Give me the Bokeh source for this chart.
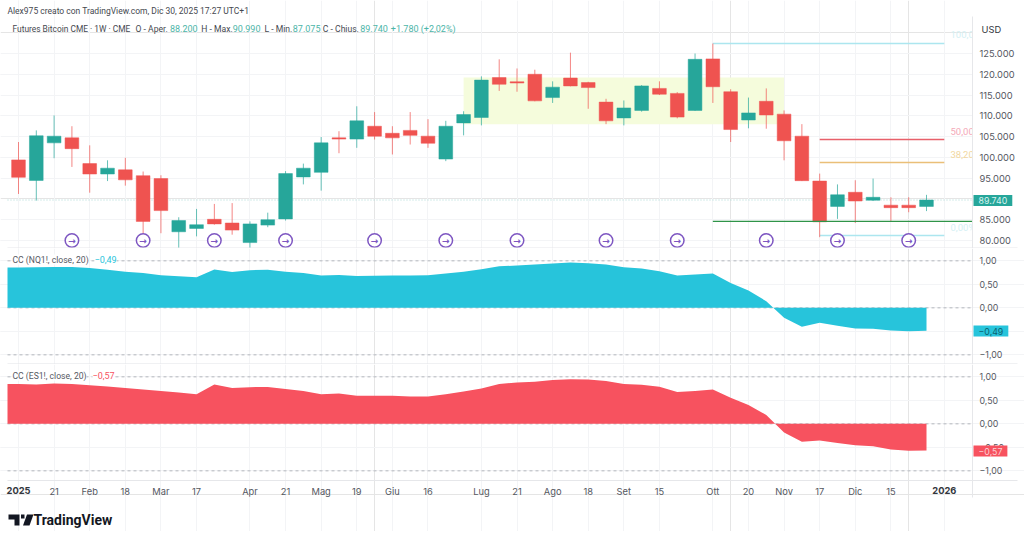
from bokeh.plotting import figure
from bokeh.layouts import column
from bokeh.embed import file_html
from bokeh.resources import INLINE
from bokeh.core.properties import value
from bokeh.models import Range1d, FixedTicker, Label, BoxAnnotation, PolyAnnotation, ColumnDataSource, LinearAxis, Grid

# ---- data (prices in thousands of USD; one candle per week) ----
opens = [99.4,94.45,103.5,104.7,98.5,96.0,97.0,95.6,94.9,82.1,82.9,85.1,84.2,79.5,83.7,85.2,95.3,96.4,104.7,104.4,107.5,105.8,106.5,105.1,99.6,108.3,109.6,119.2,118.2,120.0,114.4,119.1,118.0,113.3,109.5,111.3,116.6,115.4,111.3,123.7,115.8,109.0,113.5,110.4,105.1,94.3,88.2,91.6,89.7,88.5,88.5,88.2]
closes = [95.2,105.2,105.1,102.1,96.0,97.4,94.6,84.6,87.2,84.8,83.8,84.0,82.5,84.0,85.0,96.1,97.4,103.5,104.4,108.8,105.1,104.7,105.3,103.4,107.5,110.3,118.6,117.6,117.9,113.6,116.9,117.2,116.8,108.8,111.9,117.2,115.2,109.7,123.6,117.0,106.7,110.7,110.2,104.0,94.4,84.5,91.0,89.5,90.4,87.9,87.9,89.74]
highs = [103.7,106.5,110.1,107.5,102.9,99.3,99.9,96.6,95.7,85.6,87.6,88.8,89.0,84.6,86.7,96.7,98.5,104.9,106.3,112.3,110.9,107.5,110.9,109.2,108.8,111.1,119.5,123.6,121.4,121.1,118.3,125.2,118.2,114.1,113.7,117.4,118.3,115.7,125.0,127.4,116.4,114.4,116.6,111.3,108.0,96.1,93.5,94.5,94.9,90.4,90.4,90.99]
lows = [91.2,89.6,99.8,97.7,91.5,94.3,93.2,81.6,81.75,78.0,81.0,83.8,81.4,78.0,83.2,84.8,93.5,92.0,101.0,102.3,104.3,100.7,103.1,102.3,99.1,105.3,107.7,116.0,115.8,113.5,113.1,117.1,111.7,108.0,107.7,111.0,115.0,109.4,111.2,113.1,103.7,107.0,106.9,99.3,94.3,80.8,85.2,84.2,89.5,84.6,86.8,87.075]
cc_nq = [0.86,0.86,0.865,0.87,0.87,0.85,0.81,0.77,0.74,0.695,0.67,0.65,0.815,0.765,0.80,0.81,0.77,0.74,0.69,0.70,0.675,0.68,0.69,0.69,0.695,0.73,0.77,0.82,0.885,0.90,0.92,0.945,0.965,0.95,0.92,0.865,0.835,0.78,0.69,0.71,0.73,0.53,0.37,0.14,-0.21,-0.40,-0.32,-0.38,-0.44,-0.445,-0.48,-0.50,-0.49]
cc_es = [0.85,0.85,0.835,0.86,0.85,0.82,0.795,0.76,0.73,0.70,0.665,0.63,0.835,0.76,0.78,0.785,0.74,0.70,0.63,0.645,0.595,0.595,0.595,0.58,0.58,0.63,0.69,0.75,0.85,0.88,0.895,0.935,0.95,0.945,0.91,0.85,0.83,0.79,0.675,0.70,0.73,0.555,0.40,0.19,-0.185,-0.38,-0.355,-0.41,-0.455,-0.475,-0.545,-0.575,-0.57]
event_weeks = [3,7,11,15,20,24,28,33,37,42,46,50]
time_ticks = {2:"21",4:"Feb",6:"18",8:"Mar",10:"17",13:"Apr",15:"21",17:"Mag",19:"19",21:"Giu",23:"16",26:"Lug",28:"21",30:"Ago",32:"18",34:"Set",36:"15",39:"Ott",41:"20",43:"Nov",45:"17",47:"Dic",49:"15"}
year_ticks = {0:"2025",52:"2026"}
price_ticks = [80,85,90,95,100,105,110,115,120,125]
cc_ticks = [-1,-0.5,0,0.5,1]
cc_tick_labels = {-1:"−1,00",-0.5:"−0,50",0:"0,00",0.5:"0,50",1:"1,00"}
fib_top, fib_50, fib_382, fib_0, green_level = 127.4, 104.3, 98.8, 81.2, 84.6
box_low, box_high = 108.0, 119.2

GREEN, RED = "#26a69a", "#ef5350"
CYAN, ROSE = "#27c4db", "#f7525f"
GRID = "#f3f4f6"
TXT = "#55585f"
DARK = "#45484f"
NUM = "#4cb5a8"
FONT = "Inter"
TFONT = "Roboto"
AX_SIZE = "9.3px"
TAG_SIZE = "8.8px"
W = 1024
PX_PER_WEEK = 17.804
X_AT = lambda px: (px - 18) / PX_PER_WEEK
XL, XR, XEND = X_AT(7), X_AT(972), X_AT(1017)
xr = Range1d(X_AT(0), X_AT(W))
all_grid = sorted(list(time_ticks) + list(year_ticks))

def make(h, ybottom, ytop, gb, ticks):
    p = figure(height=h, width=W, frame_width=W, frame_height=h, x_range=xr, y_range=Range1d(ybottom, ytop),
               x_axis_location=None, y_axis_location=None, output_backend="svg", toolbar_location=None,
               min_border_left=0, min_border_right=0, min_border_top=0, min_border_bottom=0)
    p.outline_line_color = None
    p.add_layout(Grid(dimension=0, ticker=FixedTicker(ticks=all_grid), grid_line_color=GRID, bounds=gb))
    p.add_layout(Grid(dimension=1, ticker=FixedTicker(ticks=ticks), grid_line_color=GRID, bounds=(XL, XR)))
    return p

def right_axis(p, ticks, labels, bounds, size=AX_SIZE):
    ax = LinearAxis(fixed_location=XR, ticker=FixedTicker(ticks=ticks), major_label_overrides=labels, bounds=bounds,
                    axis_line_color="#e6e7ea", major_tick_line_color=None, minor_tick_line_color=None,
                    major_tick_out=0, major_tick_in=0, minor_tick_out=0, minor_tick_in=0,
                    major_label_standoff=7, major_label_text_font=FONT, major_label_text_font_size=size,
                    major_label_text_color=TXT)
    p.add_layout(ax, "right")

def lab(p, px, py, frame_bottom, text, color=TXT, size="8.6px", style="normal", font=TFONT, **kw):
    p.add_layout(Label(x=px, y=frame_bottom-py, x_units="screen", y_units="screen", text=text,
                       text_color=color, text_font=font, text_font_size=size, text_font_style=style,
                       text_baseline="middle", **kw))

# ---- main price pane (canvas y 0..248) ----
K = 45 / 187
P_TOP, P_BOT = 125 + 53 * K, 125 - 195 * K
p1 = make(248, P_BOT, P_TOP, (P_BOT, 125 + 37 * K), [t for t in price_ticks if t != 90])
i = list(range(len(opens)))
colors = [GREEN if c >= o else RED for o, c in zip(opens, closes)]
src = ColumnDataSource(dict(x=i, o=opens, c=closes, h=highs, l=lows, col=colors))
p1.quad(left=25, right=43, bottom=box_low, top=box_high, fill_color="#f5fcdc", line_color=None)
p1.segment(x0=XL, x1=XR, y0=closes[-1], y1=closes[-1], line_color="#a9d8d3", line_dash="1 2", line_width=1)
p1.segment(x0=39, x1=52, y0=fib_top, y1=fib_top, line_color="#ace6ef", line_width=1.5)
p1.segment(x0=45, x1=52, y0=fib_0, y1=fib_0, line_color="#ace6ef", line_width=1.5)
p1.segment(x0=45, x1=52, y0=fib_50, y1=fib_50, line_color="#e8606a", line_width=1.3)
p1.segment(x0=45, x1=52, y0=fib_382, y1=fib_382, line_color="#eabf78", line_width=1.5)
p1.segment(x0="x", x1="x", y0="l", y1="h", line_color="col", line_alpha=0.7, line_width=1, source=src)
p1.vbar(x="x", width=0.77, bottom="o", top="c", fill_color="col", line_color="col", line_width=0.5, source=src)
p1.segment(x0=39, x1=XR, y0=green_level, y1=green_level, line_color="#2f9448", line_width=1.3)
fib_src = ColumnDataSource(dict(x=[X_AT(950)]*4, y=[fib_top+2.1, fib_50+1.9, fib_382+1.9, fib_0+1.9],
                                t=["100,00","50,00","38,20","0,00%"],
                                c=["#d4f0f4","#f4a9b8","#f2d79e","#d4f0f4"]))
p1.text(x="x", y="y", text="t", text_color="c", text_font=value(TFONT), text_font_size="9.5px",
        text_baseline="middle", source=fib_src)
# the price scale's white strip hides what runs past the plot's right edge
p1.quad(left=XR, right=X_AT(W), bottom=P_BOT, top=P_TOP, fill_color="white", line_color=None)
ev = ColumnDataSource(dict(x=event_weeks, y=[80]*len(event_weeks), t=["→"]*len(event_weeks)))
p1.scatter(x="x", y="y", size=13.5, marker="circle", fill_color="white", line_color="#7e57c2", line_width=1.5, source=ev)
p1.text(x="x", y="y", text="t", text_color="#7e57c2", text_font=value("DejaVu Sans"), text_font_size="9px",
        text_font_style="bold", text_align="center", text_baseline="middle", source=ev)
right_axis(p1, price_ticks, {t: f"{t}.000" for t in price_ticks}, (P_BOT, 125 + 37 * K))
p1.segment(x0=XL, x1=XEND, y0=P_BOT + 0.12, y1=P_BOT + 0.12, line_color="#e6e7ea", line_width=1)
F1 = 248
lab(p1, 7, 10, F1, "Alex975 creato con TradingView.com, Dic 30, 2025 17:27 UTC+1", color=DARK, size="8.5px")
lab(p1, 12, 28, F1, "Futures Bitcoin CME · 1W · CME", color=DARK, size="8.4px")
for px, t, c in [(135,"O - Aper.",DARK),(169.5,"88.200",NUM),
                 (200.7,"H - Max.",DARK),(232.3,"90.990",NUM),(264,"L - Min.",DARK),(292.3,"87.075",NUM),
                 (322.3,"C - Chius.",DARK),(359.7,"89.740",NUM),(390.3,"+1.780 (+2,02%)",NUM)]:
    lab(p1, px, 28, F1, t, color=c, size="9px" if c == NUM else "8.6px")
lab(p1, 981, 29, F1, "USD", color="#33363d", size=AX_SIZE, font=FONT)
lab(p1, 973, 200, F1, "89.740", color="#d9f3ef", size=TAG_SIZE, font=FONT, background_fill_color=GREEN, padding=(5, 2))

# ---- correlation panes ----
PX1 = 47  # canvas pixels per 1.00 of correlation
def cc_pane(h, top_px, series, col, title, val, tag, tagcol, val_x, tag_y):
    zero_px = top_px + 12.33 + PX1
    ytop = (zero_px - top_px) / PX1
    ybot = -(top_px + h - zero_px) / PX1
    grid_low = -(top_px + 116 - zero_px) / PX1
    p = make(h, ybot, ytop, (grid_low, ytop), cc_ticks)
    x = [XL] + list(range(0, len(series)-1))
    for lv in (1, 0, -1):
        p.segment(x0=XL, x1=XR, y0=lv, y1=lv, line_color="#b4b7bd", line_dash="3 3", line_width=1)
    p.varea(x=x, y1=[0]*len(x), y2=series, fill_color=col)
    bottom = top_px + h
    lab(p, 12, top_px+11, bottom, title, background_fill_color="white")
    lab(p, val_x, top_px+11, bottom, val, color=col, background_fill_color="white", size="9px")
    return p, grid_low, (tag, tagcol, tag_y, col, bottom)

def add_tag(p, info):
    tag, tagcol, tag_y, col, bottom = info
    lab(p, 973, tag_y, bottom, tag, color=tagcol, size=TAG_SIZE, font=FONT, background_fill_color=col, padding=(5, 2))

p2, low2, t2 = cc_pane(116, 248, cc_nq, CYAN, "CC (NQ1!, close, 20)", "−0,49", "−0,49", "#0d6270", 94, 330.5)
right_axis(p2, cc_ticks, cc_tick_labels, (low2, 1.262), size="8.8px")
p2.segment(x0=XL, x1=XEND, y0=low2 + 0.012, y1=low2 + 0.012, line_color="#e6e7ea", line_width=1)
add_tag(p2, t2)
p3, low3, t3 = cc_pane(167, 364, cc_es, ROSE, "CC (ES1!, close, 20)", "−0,57", "−0,57", "#fbd0d4", 92, 450.5)
right_axis(p3, cc_ticks, cc_tick_labels, (-(497 - 423.33) / PX1, 1.262), size="8.8px")
add_tag(p3, t3)
xa = LinearAxis(fixed_location=low3, ticker=FixedTicker(ticks=all_grid), major_label_overrides={**time_ticks, **{k: "" for k in year_ticks}},
                bounds=(XL, XEND), axis_line_color="#e6e7ea", major_tick_line_color=None, minor_tick_line_color=None,
                major_tick_out=0, major_tick_in=0, minor_tick_out=0, minor_tick_in=0,
                major_label_standoff=5, major_label_text_font=FONT, major_label_text_font_size=AX_SIZE, major_label_text_color=TXT)
p3.add_layout(xa, "below")
F3 = 531
for k, t in year_ticks.items():
    p3.add_layout(Label(x=k, y=F3-490, x_units="data", y_units="screen", text=t, text_color="#33363d", text_font=FONT,
                        text_font_size=AX_SIZE, text_font_style="bold", text_align="center", text_baseline="middle"))
lab(p3, 33, 519, F3, "TradingView", color="#131722", size="14px", style="bold", font=TFONT)
p3.add_layout(PolyAnnotation(xs=[8,19,19,14,14,8], ys=[150,150,161,161,155,155], xs_units="canvas", ys_units="canvas",
                             fill_color="#131722", fill_alpha=1, line_color=None))
p3.add_layout(PolyAnnotation(xs=[33,29,22.5,26.5], ys=[150,161,161,150], xs_units="canvas", ys_units="canvas",
                             fill_color="#131722", fill_alpha=1, line_color=None))
p3.add_layout(BoxAnnotation(left=20.5, right=24, top=150, bottom=154, left_units="canvas", right_units="canvas", top_units="canvas", bottom_units="canvas",
                            fill_color="#131722", fill_alpha=1, line_color=None))

page = column(p1, p2, p3, spacing=0, margin=0)
open("out.html", "w").write(file_html(page, INLINE))
